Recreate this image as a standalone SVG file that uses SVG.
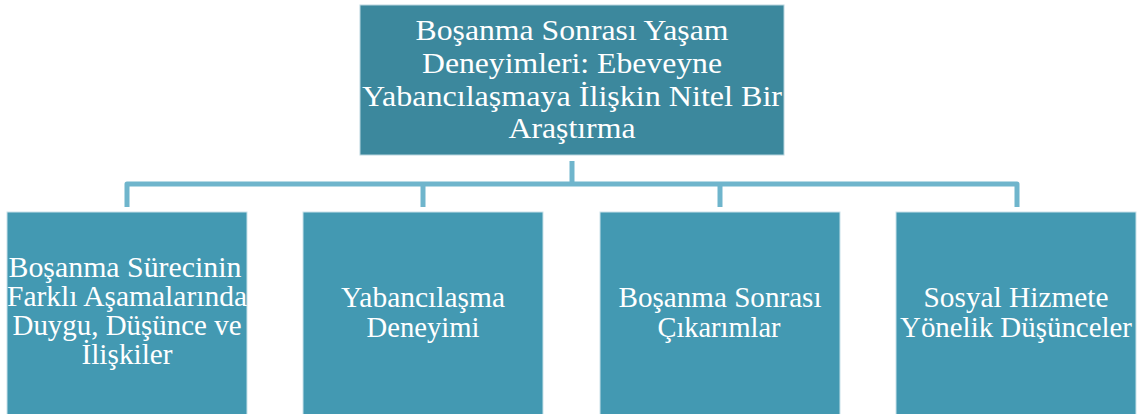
<svg xmlns="http://www.w3.org/2000/svg" width="1145" height="414" viewBox="0 0 1145 414">
<style>
.top{fill:#3c889d;stroke:#b9d6df;stroke-width:1}
.child{fill:#4399b2;stroke:#c9e2ea;stroke-width:1}
text{font-family:'Liberation Serif','Times New Roman',serif;fill:#ffffff;text-anchor:middle}
.tt{font-size:29px}
.ct{font-size:29px}
.conn{fill:none;stroke:#6fb5cc;stroke-width:5;stroke-linejoin:round}
</style>
<rect width="1145" height="414" fill="#ffffff"/>
<g id="connectors">
<path class="conn" d="M572 161 V184"/>
<path class="conn" d="M127 207 V184 H1017 V207"/>
<path class="conn" d="M423 184 V207"/>
<path class="conn" d="M720 184 V207"/>
</g>
<g id="root">
<rect class="top" x="360" y="5" width="424" height="150"/>
<text class="tt" x="572" y="40" textLength="313" lengthAdjust="spacingAndGlyphs">Boşanma Sonrası Yaşam</text>
<text class="tt" x="572" y="73" textLength="300" lengthAdjust="spacingAndGlyphs">Deneyimleri: Ebeveyne</text>
<text class="tt" x="572" y="106" textLength="420" lengthAdjust="spacingAndGlyphs">Yabancılaşmaya İlişkin Nitel Bir</text>
<text class="tt" x="572" y="138" textLength="127" lengthAdjust="spacingAndGlyphs">Araştırma</text>
</g>
<g id="node1">
<rect class="child" x="7" y="212" width="240" height="204"/>
<text class="ct" x="125" y="277" textLength="233" lengthAdjust="spacingAndGlyphs">Boşanma Sürecinin</text>
<text class="ct" x="127" y="306" textLength="240" lengthAdjust="spacingAndGlyphs">Farklı Aşamalarında</text>
<text class="ct" x="127" y="335" textLength="229" lengthAdjust="spacingAndGlyphs">Duygu, Düşünce ve</text>
<text class="ct" x="127" y="364" textLength="91" lengthAdjust="spacingAndGlyphs">İlişkiler</text>
</g>
<g id="node2">
<rect class="child" x="303" y="212" width="240" height="204"/>
<text class="ct" x="423" y="307" textLength="164" lengthAdjust="spacingAndGlyphs">Yabancılaşma</text>
<text class="ct" x="423" y="337" textLength="113" lengthAdjust="spacingAndGlyphs">Deneyimi</text>
</g>
<g id="node3">
<rect class="child" x="600" y="212" width="240" height="204"/>
<text class="ct" x="720" y="307" textLength="203" lengthAdjust="spacingAndGlyphs">Boşanma Sonrası</text>
<text class="ct" x="719" y="337" textLength="123" lengthAdjust="spacingAndGlyphs">Çıkarımlar</text>
</g>
<g id="node4">
<rect class="child" x="896" y="212" width="240" height="204"/>
<text class="ct" x="1016" y="307" textLength="185" lengthAdjust="spacingAndGlyphs">Sosyal Hizmete</text>
<text class="ct" x="1016" y="337" textLength="232" lengthAdjust="spacingAndGlyphs">Yönelik Düşünceler</text>
</g>
</svg>
